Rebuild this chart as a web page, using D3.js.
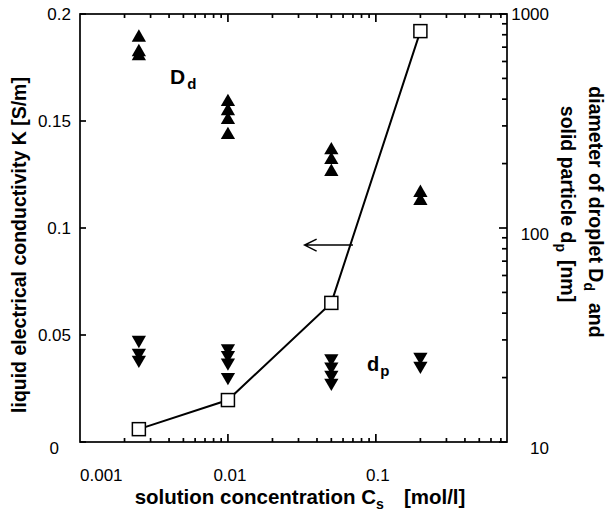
<!DOCTYPE html>
<html lang="en">
<head>
  <meta charset="UTF-8">
  <title>Conductivity and droplet size</title>
  <script src="https://d3js.org/d3.v7.min.js"></script>
  <style>
    body { margin:0; background:#fff; }
    svg { display:block; font-family: 'Liberation Sans', Arial, sans-serif; }
  </style>
</head>
<body>
  <svg width="609" height="516"></svg>
  <script>
    // solution concentration Cs [mol/l] of the four groups
    const conc = [0.0025, 0.01, 0.05, 0.2]
    // liquid electrical conductivity K [S/m] (open squares, left axis)
    const kappa = [0.006, 0.0196, 0.065, 0.192]
    // droplet diameter Dd [nm] (up triangles, right axis)
    const dropletD = [[776, 664, 636], [388, 352, 320, 272], [231, 208, 183], [146, 134]]
    // solid particle diameter dp [nm] (down triangles, right axis)
    const particleD = [[30, 26.1, 24.2], [27.4, 25.5, 23.5, 20.1], [24.6, 22.5, 20.6, 18.9], [25, 22.7]]
    const xLabels = [0.001, 0.01, 0.1]
    const kTicks = [0, 0.05, 0.1, 0.15, 0.2]
    const dLabels = [10, 100, 1000]

    const svg = d3.select('svg')
    const margin = {top: 14, right: 102, bottom: 74, left: 80}
    const width = 609
    const height = 516
    const x0 = margin.left, x1 = width - margin.right
    const y0 = height - margin.bottom, y1 = margin.top

    const x = d3.scaleLog().domain([0.001, 0.77]).range([x0, x1])
    const yK = d3.scaleLinear().domain([0, 0.2]).range([y0, y1])
    const yD = d3.scaleLog().domain([10, 1000]).range([y0, y1])

    // log minor ticks
    const xMinor = []
    ;[0.001, 0.01, 0.1].forEach(d => { for (let i = 2; i <= 9; i++) if (d * i < 0.77) xMinor.push(d * i) })
    const dMinor = []
    ;[10, 100].forEach(d => { for (let i = 2; i <= 9; i++) dMinor.push(d * i) })

    const axes = svg.append('g').attr('stroke', '#000').attr('stroke-width', 1.7)
    const tick = (ax, ay, bx, by) => axes.append('line')
      .attr('x1', ax).attr('y1', ay).attr('x2', bx).attr('y2', by)

    // frame
    axes.append('rect')
      .attr('x', x0).attr('y', y1).attr('width', x1 - x0).attr('height', y0 - y1)
      .attr('fill', 'none')

    xMinor.forEach(v => { tick(x(v), y0, x(v), y0 - 4); tick(x(v), y1, x(v), y1 + 4) })
    ;[0.01, 0.1].forEach(v => { tick(x(v), y0, x(v), y0 - 8); tick(x(v), y1, x(v), y1 + 8) })
    kTicks.forEach(v => tick(x0, yK(v), x0 + 6, yK(v)))
    dMinor.forEach(v => tick(x1, yD(v), x1 - 5, yD(v)))
    dLabels.forEach(v => tick(x1, yD(v), x1 - 8, yD(v)))

    const labelFont = 17
    svg.append('g').selectAll('text').data(xLabels).enter().append('text')
      .attr('x', (d, i) => i === 0 ? x(d) : x(d) + 2)
      .attr('y', y0 + 39)
      .attr('text-anchor', (d, i) => i === 0 ? 'start' : 'middle')
      .attr('font-size', labelFont)
      .text(d => d)

    svg.append('g').selectAll('text').data(kTicks).enter().append('text')
      .attr('x', d => d === 0 ? x0 - 21 : x0 - 9)
      .attr('y', d => yK(d) + (d === 0 ? 12 : 6))
      .attr('text-anchor', 'end')
      .attr('font-size', labelFont)
      .text(d => d)

    svg.append('g').selectAll('text').data(dLabels).enter().append('text')
      .attr('x', x1 + 42)
      .attr('y', d => yD(d) + (d === 1000 ? 6 : 12))
      .attr('text-anchor', 'end')
      .attr('font-size', labelFont)
      .text(d => d)

    // axis titles
    const titleSize = 19.5
    const xt = svg.append('text')
      .attr('x', 300).attr('y', 504)
      .attr('text-anchor', 'middle')
      .attr('font-size', 20.5).attr('font-weight', 'bold')
    xt.append('tspan').text('solution concentration C')
    xt.append('tspan').attr('font-size', 14).attr('dy', 5).text('s')
    xt.append('tspan').attr('dy', -5).attr('dx', 20).text('[mol/l]')

    svg.append('text')
      .attr('transform', 'translate(26,245) rotate(-90)')
      .attr('text-anchor', 'middle')
      .attr('font-size', titleSize).attr('font-weight', 'bold')
      .text('liquid electrical conductivity K [S/m]')

    const r1 = svg.append('text')
      .attr('transform', 'translate(589,212) rotate(90)')
      .attr('text-anchor', 'middle')
      .attr('font-size', titleSize).attr('font-weight', 'bold')
    r1.append('tspan').text('diameter of droplet D')
    r1.append('tspan').attr('font-size', 14).attr('dy', 5).text('d')
    r1.append('tspan').attr('dy', -5).attr('dx', 12).text('and')

    const r2 = svg.append('text')
      .attr('transform', 'translate(561,204) rotate(90)')
      .attr('text-anchor', 'middle')
      .attr('font-size', titleSize).attr('font-weight', 'bold')
    r2.append('tspan').text('solid particle d')
    r2.append('tspan').attr('font-size', 14).attr('dy', 5).text('p')
    r2.append('tspan').attr('dy', -5).attr('dx', 8).text('[nm]')

    // in-plot labels
    const dd = svg.append('text').attr('x', 170).attr('y', 84)
      .attr('font-size', 21).attr('font-weight', 'bold')
    dd.append('tspan').text('D')
    dd.append('tspan').attr('font-size', 15).attr('dy', 5).attr('dx', 2).text('d')

    const dp = svg.append('text').attr('x', 367).attr('y', 371)
      .attr('font-size', 20).attr('font-weight', 'bold')
    dp.append('tspan').text('d')
    dp.append('tspan').attr('font-size', 15).attr('dy', 5).attr('dx', 1).text('p')

    // arrow pointing to the left axis
    const arrowY = yK(0.092)
    svg.append('path')
      .attr('d', `M${x(0.07)},${arrowY}H${x(0.033)}M${x(0.033) + 12},${arrowY - 6}L${x(0.033)},${arrowY}L${x(0.033) + 12},${arrowY + 6}`)
      .attr('fill', 'none').attr('stroke', '#000').attr('stroke-width', 1.5)

    // triangles
    const tri = d3.symbol().type(d3.symbolTriangle).size(88)
    const flatten = (arr) => arr.flatMap((vals, i) => vals.map(v => ({c: conc[i], v})))
    svg.append('g').selectAll('path').data(flatten(dropletD)).enter().append('path')
      .attr('d', tri)
      .attr('transform', d => `translate(${x(d.c)},${yD(d.v)})`)
      .attr('fill', '#000')
    svg.append('g').selectAll('path').data(flatten(particleD)).enter().append('path')
      .attr('d', tri)
      .attr('transform', d => `translate(${x(d.c)},${yD(d.v)}) rotate(180)`)
      .attr('fill', '#000')

    // conductivity line with open squares
    const pts = conc.map((c, i) => [x(c), yK(kappa[i])])
    svg.append('path')
      .attr('d', d3.line()(pts))
      .attr('fill', 'none').attr('stroke', '#000').attr('stroke-width', 2)
    svg.append('g').selectAll('rect').data(pts).enter().append('rect')
      .attr('x', d => d[0] - 6.5).attr('y', d => d[1] - 6.5)
      .attr('width', 13).attr('height', 13)
      .attr('fill', '#fff').attr('stroke', '#000').attr('stroke-width', 1.5)
  </script>
</body>
</html>
